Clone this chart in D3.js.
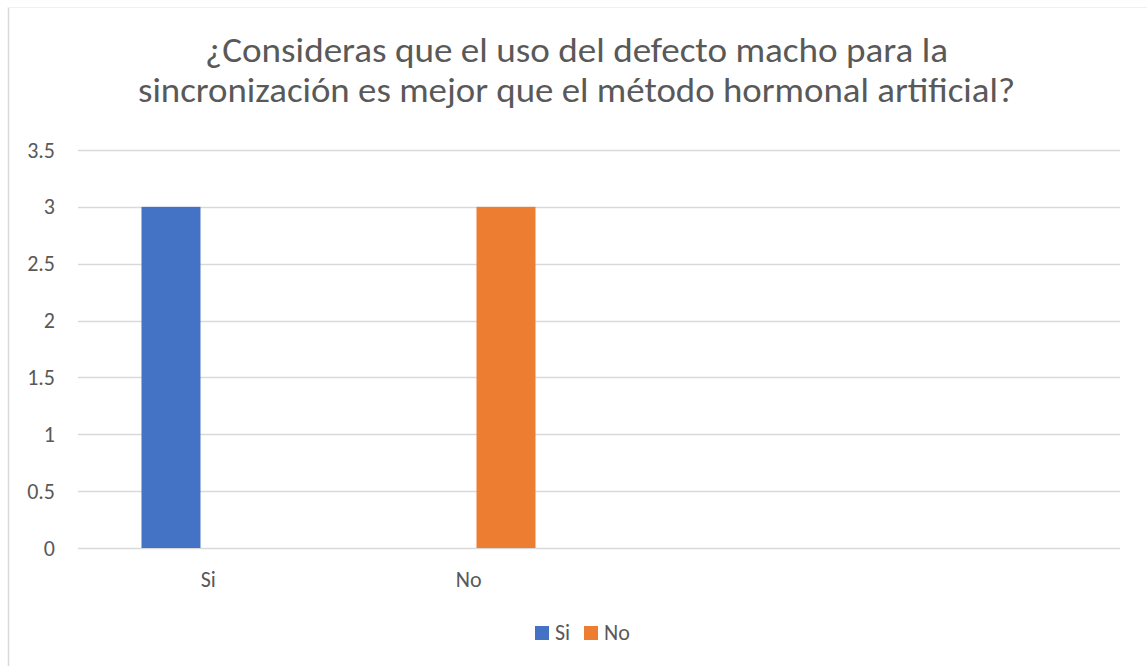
<!DOCTYPE html>
<html>
<head>
<meta charset="utf-8">
<script src="https://cdn.jsdelivr.net/npm/d3@7"></script>
<style>
  html, body { margin: 0; padding: 0; background: #ffffff; }
  svg { display: block; }
  text { font-family: Carlito, Calibri, Lato, sans-serif; fill: #595959; }
</style>
</head>
<body>
<svg id="chart" width="1147" height="666"></svg>
<script>
// ---- data ----
const titleLines = [
  "¿Consideras que el uso del defecto macho para la",
  "sincronización es mejor que el método hormonal artificial?"
];
const categories = ["Si", "No", "", ""];
const seriesNames = ["Si", "No"];
const seriesSi = [3, 0, null, null];
const seriesNo = [0, 3, null, null];
const yTicks = [0, 0.5, 1, 1.5, 2, 2.5, 3, 3.5];
const seriesColors = ["#4472C4", "#ED7D31"];

const seriesValues = [seriesSi, seriesNo];

const svg = d3.select("#chart");
const W = 1147, H = 666;
const plot = { left: 78, right: 1120, top: 150, bottom: 548 };
const FONT = "Carlito, Calibri, Lato, sans-serif";

// chart area border
svg.append("line").attr("x1", 8.5).attr("x2", 8.5).attr("y1", 7).attr("y2", H)
  .attr("stroke", "#d9d9d9").attr("stroke-width", 1.5);
svg.append("line").attr("x1", 8).attr("x2", W).attr("y1", 7.5).attr("y2", 7.5)
  .attr("stroke", "#f0f0f0").attr("stroke-width", 1);

// title
const titleWidths = [743, 877];
svg.append("g").selectAll("text").data(titleLines).join("text")
  .attr("x", 576.5)
  .attr("y", (d, i) => 62 + i * 40)
  .attr("text-anchor", "middle")
  .attr("font-size", 34)
  .attr("textLength", (d, i) => titleWidths[i])
  .attr("lengthAdjust", "spacingAndGlyphs")
  .text(d => d);

// scales
const y = d3.scaleLinear().domain([0, 3.5]).range([plot.bottom, plot.top]);
const x0 = d3.scaleBand().domain(d3.range(categories.length))
  .range([plot.left, plot.right]).paddingInner(0.4875).paddingOuter(0.24375);
const x1 = d3.scaleBand().domain(seriesNames)
  .range([0, x0.bandwidth()]).paddingInner(0.208).paddingOuter(0);

// gridlines
svg.append("g").selectAll("line").data(yTicks).join("line")
  .attr("x1", plot.left).attr("x2", plot.right)
  .attr("y1", d => Math.round(y(d)) + 0.5).attr("y2", d => Math.round(y(d)) + 0.5)
  .attr("stroke", "#d9d9d9").attr("stroke-width", 1.3);

// y axis labels
const yAxis = d3.axisLeft(y).tickValues(yTicks).tickSize(0).tickPadding(0)
  .tickFormat(d3.format("~g"));
const gy = svg.append("g").attr("transform", `translate(55,0)`).call(yAxis);
gy.select(".domain").remove();
gy.selectAll("text").attr("font-size", 22).attr("fill", "#595959")
  .style("font-family", FONT);

// bars
const barData = [];
categories.forEach((c, i) => {
  seriesNames.forEach((s, j) => {
    const v = seriesValues[j][i];
    if (v !== null && v !== undefined) barData.push({ i, s, j, v });
  });
});
svg.append("g").selectAll("rect").data(barData).join("rect")
  .attr("x", d => x0(d.i) + x1(d.s))
  .attr("width", x1.bandwidth())
  .attr("y", d => y(d.v))
  .attr("height", d => y(0) - y(d.v))
  .attr("fill", d => seriesColors[d.j]);

// x axis labels
const xAxis = d3.axisBottom(x0).tickSize(0).tickPadding(0)
  .tickFormat(i => categories[i]);
const gx = svg.append("g").attr("transform", `translate(0,587)`).call(xAxis);
gx.select(".domain").remove();
gx.selectAll("text").attr("font-size", 22).attr("fill", "#595959")
  .attr("y", 0).attr("dy", 0)
  .style("font-family", FONT);

// legend
const legendX = [535, 584];
const lg = svg.append("g").selectAll("g").data(seriesNames).join("g")
  .attr("transform", (d, i) => `translate(${legendX[i]},626)`);
lg.append("rect").attr("width", 14).attr("height", 14)
  .attr("fill", (d, i) => seriesColors[i]);
lg.append("text").attr("x", 20).attr("y", 14)
  .attr("font-size", 22).text(d => d);
</script>
</body>
</html>
